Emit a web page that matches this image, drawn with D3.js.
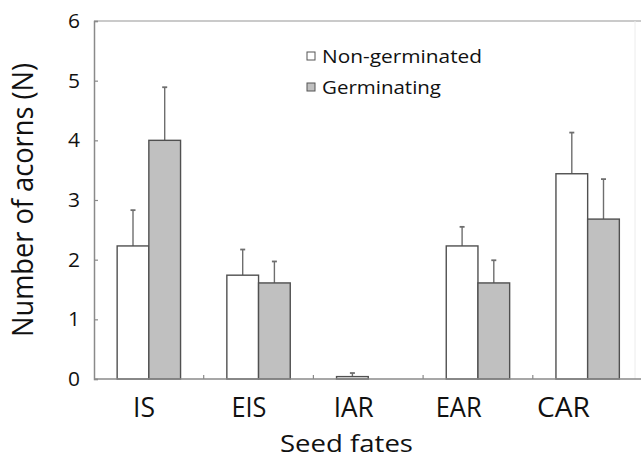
<!DOCTYPE html>
<html>
<head>
<meta charset="utf-8">
<script src="https://cdn.jsdelivr.net/npm/d3@7"></script>
<style>
  html, body { margin: 0; padding: 0; background: #fff; }
  text { font-family: "Open Sans", sans-serif; fill: #111; }
</style>
</head>
<body>
<svg id="chart" width="641" height="458"></svg>
<script>
// ---- data ----
const categories = ["IS", "EIS", "IAR", "EAR", "CAR"];
const seriesNames = ["Non-germinated", "Germinating"];
const nonGerminated = [2.23, 1.74, 0.04, 2.23, 3.44];
const nonGerminatedErr = [0.60, 0.43, 0.06, 0.32, 0.69];
const germinating = [4.00, 1.61, 0, 1.61, 2.68];
const germinatingErr = [0.89, 0.36, 0, 0.38, 0.67];
const yTicks = [0, 1, 2, 3, 4, 5, 6];
const xTitle = "Seed fates";
const yTitle = "Number of acorns (N)";

// ---- layout ----
const svg = d3.select("#chart");
const mLeft = 94, mRight = 642.5, mTop = 21, mBottom = 379;
const colors = ["#ffffff", "#c0c0c0"];

const y = d3.scaleLinear().domain([0, 6]).range([mBottom, mTop]);
const x0 = d3.scaleBand().domain(categories).range([mLeft, mRight]).padding(0);
const groupW = 63.4;
const x1 = d3.scaleBand().domain(seriesNames).range([0, groupW]).padding(0);
const groupOffset = (x0.bandwidth() - groupW) / 2;

// label positions (labels in reference are slightly offset from bands)
const xLab = d3.scalePoint().domain(categories).range([144, 563.5]);
const labWidths = [22, 35, 40, 46, 53];

// frame lines
svg.append("line").attr("x1", mLeft).attr("x2", 641).attr("y1", mTop).attr("y2", mTop)
  .attr("stroke", "#b8b8b8").attr("stroke-width", 1.3);
svg.append("line").attr("x1", 635).attr("x2", 635).attr("y1", mTop).attr("y2", mBottom)
  .attr("stroke", "#ececec").attr("stroke-width", 1);

// bars
const data = categories.map((c, i) => ({
  cat: c,
  vals: [
    { s: seriesNames[0], v: nonGerminated[i], e: nonGerminatedErr[i], k: 0 },
    { s: seriesNames[1], v: germinating[i], e: germinatingErr[i], k: 1 }
  ]
}));

const g = svg.append("g");
const groups = g.selectAll("g.grp").data(data).join("g")
  .attr("transform", d => `translate(${x0(d.cat) + groupOffset},0)`);

// error bars (upward only) drawn before bars
groups.selectAll("g.err").data(d => d.vals.filter(v => v.e > 0)).join("g").each(function(d) {
  const gg = d3.select(this);
  const cx = x1(d.s) + x1.bandwidth() / 2;
  gg.append("line").attr("x1", cx).attr("x2", cx).attr("y1", y(d.v)).attr("y2", y(d.v + d.e))
    .attr("stroke", "#6e6e6e").attr("stroke-width", 1.4);
  gg.append("line").attr("x1", cx - 2.5).attr("x2", cx + 2.5).attr("y1", y(d.v + d.e)).attr("y2", y(d.v + d.e))
    .attr("stroke", "#6e6e6e").attr("stroke-width", 1.8);
});

groups.selectAll("rect").data(d => d.vals.filter(v => v.v > 0)).join("rect")
  .attr("x", d => x1(d.s))
  .attr("width", x1.bandwidth())
  .attr("y", d => y(d.v))
  .attr("height", d => y(0) - y(d.v))
  .attr("fill", d => colors[d.k])
  .attr("stroke", "#505050")
  .attr("stroke-width", 1.4);

// y axis
const yAxis = d3.axisRight(y).tickValues(yTicks).tickSize(4).tickFormat("");
const ya = svg.append("g").attr("transform", `translate(${mLeft},0)`).call(yAxis);
ya.select(".domain").attr("stroke", "#8a8a8a").attr("stroke-width", 1.5);
ya.selectAll(".tick line").attr("stroke", "#8a8a8a").attr("stroke-width", 1.2);

svg.append("g").selectAll("text").data(yTicks).join("text")
  .attr("x", 80).attr("y", d => y(d) + 7)
  .attr("text-anchor", "end")
  .attr("font-size", 19.5)
  .attr("textLength", 12).attr("lengthAdjust", "spacingAndGlyphs")
  .text(d => d);

// x axis
const bounds = categories.slice(1).map(c => x0(c));
svg.append("line").attr("x1", mLeft).attr("x2", 641).attr("y1", mBottom).attr("y2", mBottom)
  .attr("stroke", "#8a8a8a").attr("stroke-width", 1.5);
svg.append("g").selectAll("line").data(bounds).join("line")
  .attr("x1", d => d).attr("x2", d => d).attr("y1", mBottom).attr("y2", mBottom - 4)
  .attr("stroke", "#8a8a8a").attr("stroke-width", 1.2);

svg.append("g").selectAll("text").data(categories).join("text")
  .attr("x", d => xLab(d)).attr("y", 416.5)
  .attr("text-anchor", "middle")
  .attr("font-size", 27)
  .attr("textLength", (d, i) => labWidths[i]).attr("lengthAdjust", "spacingAndGlyphs")
  .text(d => d);

svg.append("text").attr("x", 346.5).attr("y", 451.5)
  .attr("text-anchor", "middle").attr("font-size", 24)
  .attr("textLength", 133).attr("lengthAdjust", "spacingAndGlyphs")
  .text(xTitle);

svg.append("text")
  .attr("transform", "translate(33,200) rotate(-90)")
  .attr("text-anchor", "middle").attr("font-size", 30)
  .attr("textLength", 274).attr("lengthAdjust", "spacingAndGlyphs")
  .text(yTitle);

// legend
const legY = [52, 83];
const leg = svg.append("g");
seriesNames.forEach((s, i) => {
  leg.append("rect").attr("x", 307).attr("y", legY[i]).attr("width", 8).attr("height", 8)
    .attr("fill", colors[i]).attr("stroke", "#555").attr("stroke-width", 1);
  leg.append("text").attr("x", 322).attr("y", legY[i] + 11)
    .attr("font-size", 18)
    .attr("textLength", i === 0 ? 160 : 119).attr("lengthAdjust", "spacingAndGlyphs")
    .text(s);
});
</script>
</body>
</html>
